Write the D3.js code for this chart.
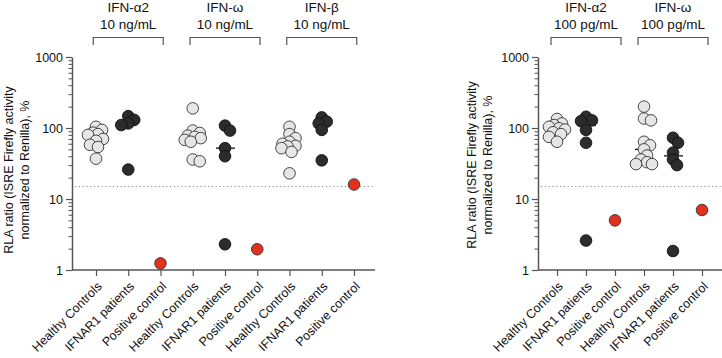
<!DOCTYPE html>
<html>
<head>
<meta charset="utf-8">
<script src="https://cdn.jsdelivr.net/npm/d3@7"></script>
<style>
  html, body { margin: 0; padding: 0; background: #fff; }
  svg { display: block; font-family: "Liberation Sans", Arial, sans-serif; }
</style>
</head>
<body>
<svg id="chart" width="722" height="358"></svg>
<script>
// ---------------- DATA ----------------
const groupCategories = ["Healthy Controls", "IFNAR1 patients", "Positive control"];
const leftTitles = [["IFN-\u03b12", "10 ng/mL"], ["IFN-\u03c9", "10 ng/mL"], ["IFN-\u03b2", "10 ng/mL"]];
const rightTitles = [["IFN-\u03b12", "100 pg/mL"], ["IFN-\u03c9", "100 pg/mL"]];
const yTickValues = [1, 10, 100, 1000];
const yLabelLines = ["RLA ratio (ISRE Firefly activity", "normalized to Renilla), %"];
const threshold = 15;

// left panel (10 ng/mL)
const hcA2_10    = [104, 94, 86, 82, 80, 70, 66, 58, 54, 37];
const ifnarA2_10 = [147, 130, 116, 110, 26];
const pcA2_10    = [1.24];
const hcW_10     = [189, 92, 85, 78, 75, 72, 68, 64, 36, 34];
const ifnarW_10  = [108, 92, 52, 40, 2.3];
const pcW_10     = [1.96];
const hcB_10     = [104, 82, 72, 64, 60, 56, 55, 52, 46, 23];
const ifnarB_10  = [141, 123, 116, 94, 35];
const pcB_10     = [16];

// right panel (100 pg/mL)
const hcA2_100    = [134, 116, 110, 104, 99, 95, 87, 82, 75, 64];
const ifnarA2_100 = [144, 128, 125, 94, 62, 2.6];
const pcA2_100    = [5.0];
const hcW_100     = [200, 136, 128, 64, 57, 50, 41, 36, 33, 31, 31];
const ifnarW_100  = [73, 62, 45, 36, 30, 1.85];
const pcW_100     = [7.0];

const leftSeries  = [hcA2_10, ifnarA2_10, pcA2_10, hcW_10, ifnarW_10, pcW_10, hcB_10, ifnarB_10, pcB_10];
const rightSeries = [hcA2_100, ifnarA2_100, pcA2_100, hcW_100, ifnarW_100, pcW_100];

// ---------------- STYLE ----------------
const fills   = ["#e6e6e6", "#2c2c2c", "#e1311c"];
const strokes = ["#333", "#111", "#333"];
const R = 5.8;
const axisColor = "#555";

const svg = d3.select("#chart");

// compact, overlapping scatter (GraphPad-like)
function beeswarm(values, y, cx) {
  const pts = values.map(v => ({v, y: y(v)})).sort((a, b) => a.y - b.y);
  const placed = [];
  const D = 6.5, MAXOFF = 8;
  pts.forEach(p => {
    const cands = [0];
    for (let k = 1; k <= MAXOFF; k++) cands.push(k, -k);
    let chosen = null, bestC = 0, bestD = -1;
    for (const c of cands) {
      const md = placed.length ? d3.min(placed, q => Math.hypot(q.dx - c, q.y - p.y)) : Infinity;
      if (md >= D) { chosen = c; break; }
      if (md > bestD) { bestD = md; bestC = c; }
    }
    p.dx = chosen !== null ? chosen : bestC;
    placed.push(p);
  });
  return pts.map(p => ({v: p.v, x: cx + p.dx, y: p.y}));
}

function panel(opts) {
  const {series, titles, x0, x1, xFirst, xLast, labelX} = opts;
  const n = series.length;
  const g = svg.append("g");
  const y = d3.scaleLog().domain([1, 1000]).range([270, 57]);
  const x = d3.scalePoint().domain(d3.range(n)).range([xFirst, xLast]);
  const cats = d3.range(n).map(i => groupCategories[i % 3]);

  // threshold dotted
  g.append("line")
    .attr("x1", x0 + 3).attr("x2", x1)
    .attr("y1", y(threshold)).attr("y2", y(threshold))
    .attr("stroke", "#8a8a8a").attr("stroke-width", 1)
    .attr("stroke-dasharray", "1.2,2.6");

  // y axis major
  const ya = g.append("g").attr("transform", `translate(${x0},0)`)
    .call(d3.axisLeft(y).tickValues(yTickValues).tickFormat(d3.format("d")).tickSize(6).tickSizeOuter(0));
  ya.select(".domain").attr("stroke", axisColor).attr("stroke-width", 1.5);
  ya.selectAll(".tick line").attr("stroke", axisColor).attr("stroke-width", 1.2);
  ya.selectAll(".tick text").attr("font-size", 12.5).attr("fill", "#111").attr("x", -9);

  // y axis minor
  const minor = [];
  [1, 10, 100].forEach(d => { for (let k = 2; k <= 9; k++) minor.push(d * k); });
  const ym = g.append("g").attr("transform", `translate(${x0},0)`)
    .call(d3.axisLeft(y).tickValues(minor).tickFormat("").tickSize(3.5).tickSizeOuter(0));
  ym.select(".domain").remove();
  ym.selectAll(".tick line").attr("stroke", axisColor).attr("stroke-width", 1);

  // x axis
  const xa = g.append("g").attr("transform", `translate(0,${y(1)})`)
    .call(d3.axisBottom(x).tickSize(6).tickSizeOuter(0).tickFormat(i => cats[i]));
  xa.select(".domain").remove();
  xa.append("line").attr("x1", x0).attr("x2", x1).attr("y1", 0).attr("y2", 0)
    .attr("stroke", axisColor).attr("stroke-width", 1.5);
  xa.selectAll(".tick line").attr("stroke", axisColor).attr("stroke-width", 1.2);
  xa.selectAll(".tick text")
    .attr("font-size", 12.5).attr("fill", "#111")
    .attr("text-anchor", "end")
    .attr("x", 0).attr("y", 0).attr("dy", "0.35em")
    .attr("transform", "translate(3,14) rotate(-45)");

  // medians
  series.forEach((vals, i) => {
    if (vals.length < 2) return;
    const m = d3.median(vals);
    g.append("line")
      .attr("x1", x(i) - 9).attr("x2", x(i) + 10)
      .attr("y1", y(m)).attr("y2", y(m))
      .attr("stroke", "#111").attr("stroke-width", 1.3);
  });

  // points
  series.forEach((vals, i) => {
    const pts = beeswarm(vals, y, x(i));
    g.selectAll(null).data(pts).enter().append("circle")
      .attr("cx", d => d.x).attr("cy", d => d.y).attr("r", R)
      .attr("fill", fills[i % 3]).attr("stroke", strokes[i % 3]).attr("stroke-width", 0.9);
  });

  // brackets & titles
  titles.forEach((t, gi) => {
    const cx = (x(gi * 3) + x(gi * 3 + 2)) / 2;
    const bx0 = cx - 35, bx1 = cx + 35;
    g.append("path")
      .attr("d", `M${bx0},45 V37.5 H${bx1} V45`)
      .attr("fill", "none").attr("stroke", axisColor).attr("stroke-width", 1.2);
    g.append("text").attr("x", cx).attr("y", 12).attr("text-anchor", "middle")
      .attr("font-size", 13.5).attr("fill", "#111").text(t[0]);
    g.append("text").attr("x", cx).attr("y", 29).attr("text-anchor", "middle")
      .attr("font-size", 13.5).attr("fill", "#111").text(t[1]);
  });

  // y label
  const yl = g.append("text")
    .attr("transform", `translate(${labelX},${opts.labelY}) rotate(-90)`)
    .attr("text-anchor", "middle").attr("font-size", 12.5).attr("fill", "#111");
  yl.append("tspan").attr("x", 0).attr("y", 0).text(yLabelLines[0]);
  yl.append("tspan").attr("x", 0).attr("y", 16).text(yLabelLines[1]);
}

panel({series: leftSeries, titles: leftTitles, x0: 72, x1: 375, xFirst: 96, xLast: 354, labelX: 13, labelY: 170});
panel({series: rightSeries, titles: rightTitles, x0: 538, x1: 722, xFirst: 557, xLast: 702, labelX: 476, labelY: 165});
</script>
</body>
</html>
